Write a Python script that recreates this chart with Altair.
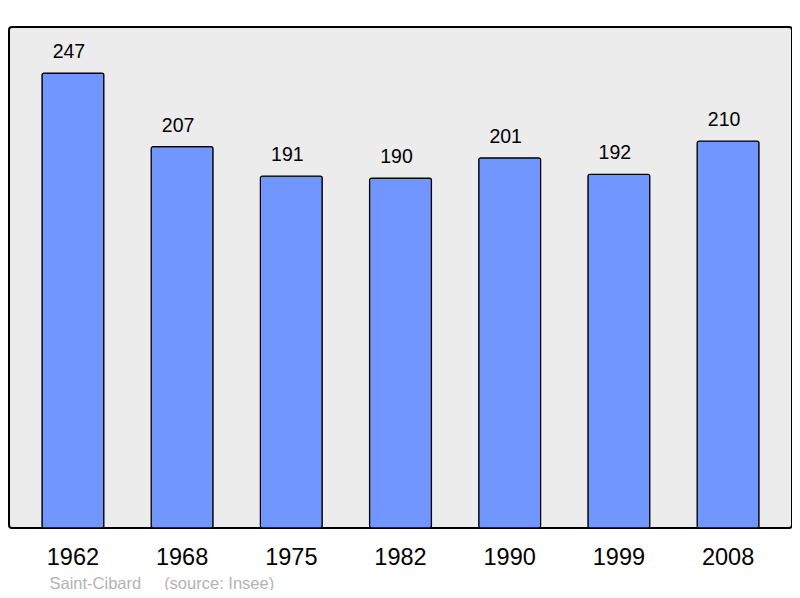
import altair as alt
import pandas as pd

years = ["1962", "1968", "1975", "1982", "1990", "1999", "2008"]
population = [247, 207, 191, 190, 201, 192, 210]
caption = "Saint-Cibard\u00a0\u00a0\u00a0\u00a0\u00a0(source: Insee)"

df = pd.DataFrame({"year": years, "pop": population})

FONT = "Liberation Sans"

x = alt.X(
    "year:N",
    sort=years,
    scale=alt.Scale(paddingInner=0.433, paddingOuter=0.302),
    axis=alt.Axis(
        title=caption,
        titleFont=FONT,
        titleFontSize=16.5,
        titleFontWeight="normal",
        titleColor="#b3b3b3",
        titleAnchor="start",
        titleAlign="left",
        titleBaseline="alphabetic",
        titleX=40,
        titleY=60,
        labelAngle=0,
        labelFont=FONT,
        labelFontSize=23.5,
        labelColor="#000000",
        labelBaseline="alphabetic",
        labelPadding=36,
        domain=False,
        ticks=False,
    ),
)
y = alt.Y(
    "pop:Q",
    scale=alt.Scale(domain=[0, 272], nice=False, zero=True),
    axis=None,
)

bars = alt.Chart(df).mark_bar(
    color="#7197ff", stroke="#000000", strokeWidth=1.2, cornerRadius=2
).encode(x=x, y=y)

labels = alt.Chart(df).mark_text(
    font=FONT, fontSize=19.5, color="#000000", dx=-4, dy=-15,
    baseline="alphabetic", align="center"
).encode(x=alt.X("year:N", sort=years), y="pop:Q", text="pop:Q")

chart = (
    alt.layer(bars, labels)
    .properties(
        width=783,
        height=501,
        autosize=alt.AutoSizeParams(type="none"),
        padding={"left": 1, "top": 19, "right": 0, "bottom": 62},
        background="#ffffff",
    )
    .configure_view(
        fill="#ececec", stroke="#000000", strokeWidth=2, cornerRadius=3
    )
)

chart.save("out.html", embed_options={"renderer": "svg", "actions": False})
